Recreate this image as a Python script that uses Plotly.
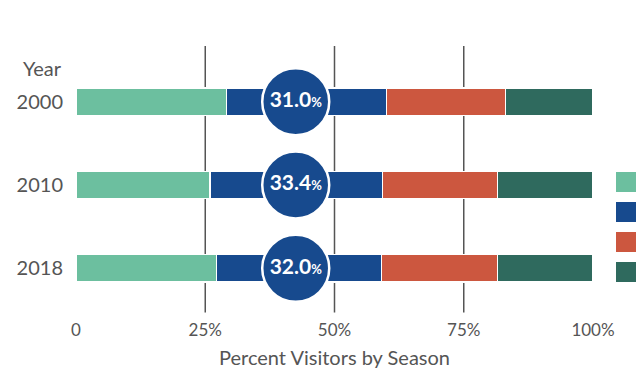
import plotly.graph_objects as go

years = ["2000", "2010", "2018"]
season_names = ["Season 1", "Season 2", "Season 3", "Season 4"]
season1 = [29.1, 25.9, 27.1]
season2 = [31.0, 33.4, 32.0]
season3 = [22.9, 22.2, 22.4]
season4 = [17.0, 18.5, 18.5]
highlight_labels = ["31.0", "33.4", "32.0"]
x_tick_vals = [0, 25, 50, 75, 100]
x_tick_text = ["0", "25%", "50%", "75%", "100%"]

colors = ["#6cbf9f", "#174a8e", "#cc573f", "#2f6a5e"]
text_gray = "#555555"
FONT = "Lato"

fig = go.Figure()
for name, vals, c in zip(season_names, [season1, season2, season3, season4], colors):
    fig.add_trace(go.Bar(
        y=years, x=vals, orientation="h", name=name,
        marker=dict(color=c, line=dict(color="white", width=1.2)),
        width=0.33, hoverinfo="x+y", showlegend=False,
    ))

label_x = 42.5
fig.add_trace(go.Scatter(
    x=[label_x] * len(years), y=years, mode="markers+text",
    marker=dict(size=67, color=colors[1], line=dict(color="white", width=2.5)),
    text=[f"<b>{t}</b><span style='font-size:13px'><b>%</b></span>" for t in highlight_labels],
    textposition="middle center",
    textfont=dict(family=FONT, size=21, color="white"),
    showlegend=False, hoverinfo="skip", cliponaxis=False,
))

# vertical gridlines
for v in [25, 50, 75]:
    fig.add_shape(type="line", xref="x", yref="paper", x0=v, x1=v, y0=-0.01, y1=1.056,
                  line=dict(color="#555555", width=1.5), layer="below")

# legend swatches (labels cropped in original)
sw_top = [172, 202, 232, 262]
for c, t in zip(colors, sw_top):
    fig.add_shape(type="rect", xref="paper", yref="paper",
                  x0=(616 - 76) / 517, x1=(636 - 76) / 517,
                  y0=(310 - (t + 20)) / 250, y1=(310 - t) / 250,
                  fillcolor=c, line=dict(width=0))

fig.add_annotation(text="Year", xref="paper", yref="paper", x=(64 - 76) / 517, y=(310 - 68) / 250,
                   xanchor="right", yanchor="middle", showarrow=False,
                   font=dict(family=FONT, size=20, color=text_gray))

fig.update_layout(
    width=641, height=378,
    margin=dict(l=76, r=48, t=60, b=68),
    plot_bgcolor="white", paper_bgcolor="white",
    barmode="stack", bargap=0.67,
    xaxis=dict(range=[0, 100], tickvals=x_tick_vals, ticktext=x_tick_text,
               showgrid=False, zeroline=False, showline=False, ticks="",
               tickfont=dict(family=FONT, size=17, color=text_gray),
               ticklabelstandoff=8,
               title=dict(text="Percent Visitors by Season", standoff=11,
                          font=dict(family=FONT, size=20, color=text_gray))),
    yaxis=dict(categoryorder="array", categoryarray=years, range=[2.5, -0.5],
               showgrid=False, zeroline=False, showline=False, ticks="",
               tickfont=dict(family=FONT, size=20, color=text_gray),
               ticklabelstandoff=12),
)

fig.write_html("out.html", config={"displayModeBar": False},
               post_script="document.body.style.margin='0';document.body.style.padding='0';")
